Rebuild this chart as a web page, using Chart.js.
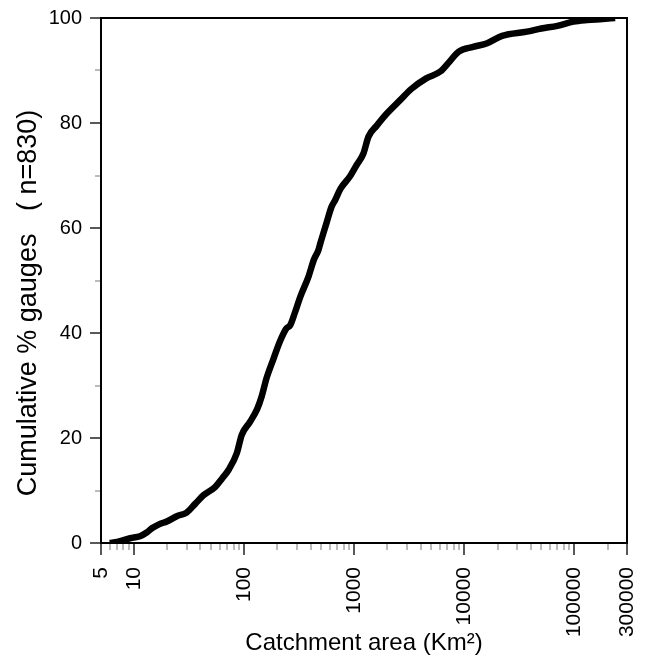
<!DOCTYPE html>
<html>
<head>
<meta charset="utf-8">
<script src="https://cdn.jsdelivr.net/npm/chart.js@4.4.1/dist/chart.umd.min.js"></script>
<style>
  html, body { margin: 0; padding: 0; background: #fff; }
  #wrap { width: 645px; height: 670px; }
</style>
</head>
<body>
<div id="wrap"><canvas id="cdfChart" width="645" height="670"></canvas></div>
<script>
// catchment area (km2) vs cumulative share of gauges
const areaKm2 = [6.0, 7.0, 9.2, 11.3, 13, 14.5, 17, 19.8, 24.4, 30, 36, 42.6, 54.6, 63, 72, 85.6, 95,
    113, 131, 144, 160, 183, 210, 240, 262, 290, 323, 383, 430, 472, 490, 560, 620, 669, 750, 911,
    1050, 1210, 1345, 1600, 1975, 2620, 3300, 4500, 6040, 7200, 8880, 12000, 16100, 22000, 37000,
    50000, 70000, 98000, 130000, 180000, 234000];
const cumPct = [0, 0.2, 0.9, 1.3, 2.0, 2.8, 3.6, 4.1, 5.1, 5.8, 7.5, 9.1, 10.7, 12.3, 13.9, 17.1, 20.6,
    23.1, 25.5, 27.9, 31.5, 34.9, 38.3, 40.8, 41.5, 44, 46.9, 50.7, 54, 55.8, 57, 61, 64, 65.3, 67.5, 69.8,
    72, 74.2, 77.4, 79.5, 81.8, 84.4, 86.5, 88.5, 89.8, 91.5, 93.6, 94.5, 95.2, 96.6, 97.4,
    98.0, 98.5, 99.3, 99.6, 99.8, 100];

const xTickValues = [5, 10, 100, 1000, 10000, 100000, 300000];
const xMinorValues = [6, 7, 8, 9, 20, 30, 40, 50, 60, 70, 80, 90, 200, 300, 400, 500, 600, 700, 800, 900,
    2000, 3000, 4000, 5000, 6000, 7000, 8000, 9000, 20000, 30000, 40000, 50000, 60000, 70000, 80000, 90000,
    200000];
const yTickValues = [0, 20, 40, 60, 80, 100];
const yMinorValues = [10, 30, 50, 70, 90];

// frame + outward tick marks (major long/dark, minor short/grey)
const frameTicks = {
    id: 'frameTicks',
    afterDraw(chart) {
        const { ctx, chartArea: a, scales: { x, y } } = chart;
        ctx.save();
        ctx.lineCap = 'butt';
        const tick = (x1, y1, x2, y2, col, w) => {
            ctx.strokeStyle = col; ctx.lineWidth = w;
            ctx.beginPath(); ctx.moveTo(x1, y1); ctx.lineTo(x2, y2); ctx.stroke();
        };
        xTickValues.forEach(v => { const px = Math.round(x.getPixelForValue(v)); tick(px, a.bottom, px, a.bottom + 12, '#222', 1.5); });
        xMinorValues.forEach(v => { const px = Math.round(x.getPixelForValue(v)); tick(px, a.bottom, px, a.bottom + 7, '#777', 1); });
        yTickValues.forEach(v => { const py = Math.round(y.getPixelForValue(v)); tick(a.left - 11, py, a.left, py, '#222', 1.5); });
        yMinorValues.forEach(v => { const py = Math.round(y.getPixelForValue(v)); tick(a.left - 6, py, a.left, py, '#777', 1); });
        ctx.strokeStyle = '#000';
        ctx.lineWidth = 2;
        ctx.strokeRect(a.left, a.top, a.right - a.left, a.bottom - a.top);
        ctx.restore();
    }
};

new Chart(document.getElementById('cdfChart').getContext('2d'), {
    type: 'line',
    data: {
        datasets: [{
            data: areaKm2.map((v, i) => ({ x: v, y: cumPct[i] })),
            borderColor: '#000',
            borderWidth: 6.5,
            pointRadius: 0,
            cubicInterpolationMode: 'monotone',
            fill: false
        }]
    },
    options: {
        responsive: false,
        animation: false,
        layout: { padding: { left: 0, right: 18, top: 18, bottom: 0 } },
        plugins: { legend: { display: false }, tooltip: { enabled: false } },
        scales: {
            x: {
                type: 'logarithmic',
                min: 5,
                max: 300000,
                grid: { display: false, drawTicks: false },
                border: { display: false },
                afterBuildTicks: s => { s.ticks = xTickValues.map(v => ({ value: v })); },
                afterFit: s => { s.height = 127; s.paddingLeft = 0; s.paddingRight = 0; },
                ticks: {
                    autoSkip: false,
                    minRotation: 90,
                    maxRotation: 90,
                    padding: 24,
                    color: '#000',
                    font: { family: 'Liberation Sans, Arial', size: 21 },
                    callback: v => String(v)
                },
                title: {
                    display: true,
                    text: 'Catchment area (Km²)',
                    color: '#000',
                    font: { family: 'Liberation Sans, Arial', size: 24 },
                    padding: { top: 0, bottom: 12 }
                }
            },
            y: {
                min: 0,
                max: 100,
                grid: { display: false, drawTicks: false },
                border: { display: false },
                afterBuildTicks: s => { s.ticks = yTickValues.map(v => ({ value: v })); },
                afterFit: s => { s.width = 101; s.paddingTop = 0; s.paddingBottom = 0; },
                ticks: {
                    padding: 19,
                    color: '#000',
                    font: { family: 'Liberation Sans, Arial', size: 20 }
                },
                title: {
                    display: true,
                    text: 'Cumulative % gauges   ( n=830)      ',
                    color: '#000',
                    font: { family: 'Liberation Sans, Arial', size: 27 },
                    padding: { top: 12, bottom: 0 }
                }
            }
        }
    },
    plugins: [frameTicks]
});
</script>
</body>
</html>
